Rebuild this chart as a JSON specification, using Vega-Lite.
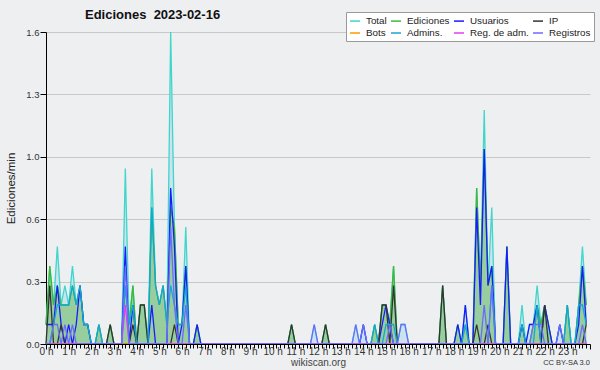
{
  "$schema": "https://vega.github.io/schema/vega-lite/v6.json",
  "width": 544,
  "height": 312,
  "autosize": {"type": "none"},
  "padding": {"left": 46, "top": 32, "right": 10, "bottom": 26},
  "background": "#eeeff1",
  "config": {"view": {"stroke": null}, "font": "Liberation Sans"},
  "title": {"text": "Ediciones\u00a0 2023-02-16", "anchor": "start", "frame": "group", "dx": 39, "dy": 19, "offset": 9, "fontSize": 13, "font": "Liberation Sans", "fontWeight": "bold", "color": "#111"},
  "datasets": {"ed": [
{"m":0,"Total":0.1,"Ediciones":0.1,"Usuarios":0.1,"IP":0,"Bots":0,"Admins":0,"RegAdm":0,"Registros":0},
{"m":10,"Total":0.4,"Ediciones":0.4,"Usuarios":0.1,"IP":0.3,"Bots":0,"Admins":0,"RegAdm":0,"Registros":0},
{"m":20,"Total":0.2,"Ediciones":0.2,"Usuarios":0.1,"IP":0,"Bots":0,"Admins":0.1,"RegAdm":0,"Registros":0.1},
{"m":30,"Total":0.5,"Ediciones":0.3,"Usuarios":0.3,"IP":0,"Bots":0,"Admins":0.2,"RegAdm":0,"Registros":0.1},
{"m":40,"Total":0.2,"Ediciones":0.2,"Usuarios":0.1,"IP":0.1,"Bots":0,"Admins":0.2,"RegAdm":0,"Registros":0},
{"m":50,"Total":0.3,"Ediciones":0.2,"Usuarios":0,"IP":0,"Bots":0,"Admins":0.2,"RegAdm":0,"Registros":0.1},
{"m":60,"Total":0.2,"Ediciones":0.2,"Usuarios":0.1,"IP":0,"Bots":0,"Admins":0.2,"RegAdm":0,"Registros":0},
{"m":70,"Total":0.4,"Ediciones":0.3,"Usuarios":0,"IP":0,"Bots":0,"Admins":0.3,"RegAdm":0,"Registros":0.1},
{"m":80,"Total":0.2,"Ediciones":0.2,"Usuarios":0.1,"IP":0,"Bots":0,"Admins":0.2,"RegAdm":0,"Registros":0},
{"m":90,"Total":0.3,"Ediciones":0.3,"Usuarios":0.3,"IP":0,"Bots":0,"Admins":0.3,"RegAdm":0,"Registros":0},
{"m":100,"Total":0.1,"Ediciones":0.1,"Usuarios":0.1,"IP":0,"Bots":0,"Admins":0.1,"RegAdm":0,"Registros":0},
{"m":110,"Total":0.1,"Ediciones":0.1,"Usuarios":0.1,"IP":0,"Bots":0,"Admins":0.1,"RegAdm":0,"Registros":0},
{"m":120,"Total":0,"Ediciones":0,"Usuarios":0,"IP":0,"Bots":0,"Admins":0,"RegAdm":0,"Registros":0},
{"m":130,"Total":0,"Ediciones":0,"Usuarios":0,"IP":0,"Bots":0,"Admins":0,"RegAdm":0,"Registros":0},
{"m":140,"Total":0.1,"Ediciones":0.1,"Usuarios":0,"IP":0,"Bots":0,"Admins":0.1,"RegAdm":0,"Registros":0},
{"m":150,"Total":0,"Ediciones":0,"Usuarios":0,"IP":0,"Bots":0,"Admins":0,"RegAdm":0,"Registros":0},
{"m":160,"Total":0,"Ediciones":0,"Usuarios":0,"IP":0,"Bots":0,"Admins":0,"RegAdm":0,"Registros":0},
{"m":170,"Total":0.1,"Ediciones":0.1,"Usuarios":0,"IP":0.1,"Bots":0,"Admins":0,"RegAdm":0,"Registros":0},
{"m":180,"Total":0,"Ediciones":0,"Usuarios":0,"IP":0,"Bots":0,"Admins":0,"RegAdm":0,"Registros":0},
{"m":190,"Total":0,"Ediciones":0,"Usuarios":0,"IP":0,"Bots":0,"Admins":0,"RegAdm":0,"Registros":0},
{"m":200,"Total":0,"Ediciones":0,"Usuarios":0,"IP":0,"Bots":0,"Admins":0,"RegAdm":0,"Registros":0},
{"m":210,"Total":0.9,"Ediciones":0.3,"Usuarios":0.5,"IP":0,"Bots":0,"Admins":0.3,"RegAdm":0.2,"Registros":0.4},
{"m":220,"Total":0.1,"Ediciones":0.1,"Usuarios":0,"IP":0,"Bots":0,"Admins":0.1,"RegAdm":0,"Registros":0},
{"m":230,"Total":0.3,"Ediciones":0.3,"Usuarios":0.2,"IP":0.1,"Bots":0,"Admins":0.2,"RegAdm":0,"Registros":0},
{"m":240,"Total":0,"Ediciones":0,"Usuarios":0,"IP":0,"Bots":0,"Admins":0,"RegAdm":0,"Registros":0},
{"m":250,"Total":0.2,"Ediciones":0.2,"Usuarios":0,"IP":0.2,"Bots":0,"Admins":0,"RegAdm":0,"Registros":0},
{"m":260,"Total":0.2,"Ediciones":0.2,"Usuarios":0,"IP":0.2,"Bots":0,"Admins":0,"RegAdm":0,"Registros":0},
{"m":270,"Total":0,"Ediciones":0,"Usuarios":0,"IP":0,"Bots":0,"Admins":0,"RegAdm":0,"Registros":0},
{"m":280,"Total":0.9,"Ediciones":0.7,"Usuarios":0.2,"IP":0,"Bots":0,"Admins":0.7,"RegAdm":0,"Registros":0},
{"m":290,"Total":0.3,"Ediciones":0.3,"Usuarios":0,"IP":0,"Bots":0,"Admins":0.3,"RegAdm":0,"Registros":0},
{"m":300,"Total":0.2,"Ediciones":0.2,"Usuarios":0,"IP":0,"Bots":0,"Admins":0.2,"RegAdm":0,"Registros":0},
{"m":310,"Total":0.3,"Ediciones":0.3,"Usuarios":0,"IP":0,"Bots":0,"Admins":0.3,"RegAdm":0,"Registros":0},
{"m":320,"Total":0.1,"Ediciones":0.1,"Usuarios":0,"IP":0,"Bots":0,"Admins":0.1,"RegAdm":0,"Registros":0},
{"m":330,"Total":1.6,"Ediciones":0.7,"Usuarios":0.8,"IP":0,"Bots":0,"Admins":0.3,"RegAdm":0,"Registros":0.6},
{"m":340,"Total":0.6,"Ediciones":0.6,"Usuarios":0.5,"IP":0.1,"Bots":0,"Admins":0.2,"RegAdm":0,"Registros":0.2},
{"m":350,"Total":0.1,"Ediciones":0.1,"Usuarios":0,"IP":0,"Bots":0,"Admins":0.1,"RegAdm":0,"Registros":0},
{"m":360,"Total":0.1,"Ediciones":0.1,"Usuarios":0.1,"IP":0,"Bots":0,"Admins":0.1,"RegAdm":0,"Registros":0},
{"m":370,"Total":0.6,"Ediciones":0.4,"Usuarios":0.4,"IP":0,"Bots":0,"Admins":0.3,"RegAdm":0,"Registros":0.2},
{"m":380,"Total":0,"Ediciones":0,"Usuarios":0,"IP":0,"Bots":0,"Admins":0,"RegAdm":0,"Registros":0},
{"m":390,"Total":0,"Ediciones":0,"Usuarios":0,"IP":0,"Bots":0,"Admins":0,"RegAdm":0,"Registros":0},
{"m":400,"Total":0.1,"Ediciones":0.1,"Usuarios":0.1,"IP":0,"Bots":0,"Admins":0,"RegAdm":0,"Registros":0},
{"m":410,"Total":0,"Ediciones":0,"Usuarios":0,"IP":0,"Bots":0,"Admins":0,"RegAdm":0,"Registros":0},
{"m":420,"Total":0,"Ediciones":0,"Usuarios":0,"IP":0,"Bots":0,"Admins":0,"RegAdm":0,"Registros":0},
{"m":430,"Total":0,"Ediciones":0,"Usuarios":0,"IP":0,"Bots":0,"Admins":0,"RegAdm":0,"Registros":0},
{"m":440,"Total":0,"Ediciones":0,"Usuarios":0,"IP":0,"Bots":0,"Admins":0,"RegAdm":0,"Registros":0},
{"m":450,"Total":0,"Ediciones":0,"Usuarios":0,"IP":0,"Bots":0,"Admins":0,"RegAdm":0,"Registros":0},
{"m":460,"Total":0,"Ediciones":0,"Usuarios":0,"IP":0,"Bots":0,"Admins":0,"RegAdm":0,"Registros":0},
{"m":470,"Total":0,"Ediciones":0,"Usuarios":0,"IP":0,"Bots":0,"Admins":0,"RegAdm":0,"Registros":0},
{"m":480,"Total":0,"Ediciones":0,"Usuarios":0,"IP":0,"Bots":0,"Admins":0,"RegAdm":0,"Registros":0},
{"m":490,"Total":0,"Ediciones":0,"Usuarios":0,"IP":0,"Bots":0,"Admins":0,"RegAdm":0,"Registros":0},
{"m":500,"Total":0,"Ediciones":0,"Usuarios":0,"IP":0,"Bots":0,"Admins":0,"RegAdm":0,"Registros":0},
{"m":510,"Total":0,"Ediciones":0,"Usuarios":0,"IP":0,"Bots":0,"Admins":0,"RegAdm":0,"Registros":0},
{"m":520,"Total":0,"Ediciones":0,"Usuarios":0,"IP":0,"Bots":0,"Admins":0,"RegAdm":0,"Registros":0},
{"m":530,"Total":0,"Ediciones":0,"Usuarios":0,"IP":0,"Bots":0,"Admins":0,"RegAdm":0,"Registros":0},
{"m":540,"Total":0,"Ediciones":0,"Usuarios":0,"IP":0,"Bots":0,"Admins":0,"RegAdm":0,"Registros":0},
{"m":550,"Total":0,"Ediciones":0,"Usuarios":0,"IP":0,"Bots":0,"Admins":0,"RegAdm":0,"Registros":0},
{"m":560,"Total":0,"Ediciones":0,"Usuarios":0,"IP":0,"Bots":0,"Admins":0,"RegAdm":0,"Registros":0},
{"m":570,"Total":0,"Ediciones":0,"Usuarios":0,"IP":0,"Bots":0,"Admins":0,"RegAdm":0,"Registros":0},
{"m":580,"Total":0,"Ediciones":0,"Usuarios":0,"IP":0,"Bots":0,"Admins":0,"RegAdm":0,"Registros":0},
{"m":590,"Total":0,"Ediciones":0,"Usuarios":0,"IP":0,"Bots":0,"Admins":0,"RegAdm":0,"Registros":0},
{"m":600,"Total":0,"Ediciones":0,"Usuarios":0,"IP":0,"Bots":0,"Admins":0,"RegAdm":0,"Registros":0},
{"m":610,"Total":0,"Ediciones":0,"Usuarios":0,"IP":0,"Bots":0,"Admins":0,"RegAdm":0,"Registros":0},
{"m":620,"Total":0,"Ediciones":0,"Usuarios":0,"IP":0,"Bots":0,"Admins":0,"RegAdm":0,"Registros":0},
{"m":630,"Total":0,"Ediciones":0,"Usuarios":0,"IP":0,"Bots":0,"Admins":0,"RegAdm":0,"Registros":0},
{"m":640,"Total":0,"Ediciones":0,"Usuarios":0,"IP":0,"Bots":0,"Admins":0,"RegAdm":0,"Registros":0},
{"m":650,"Total":0.1,"Ediciones":0.1,"Usuarios":0,"IP":0.1,"Bots":0,"Admins":0,"RegAdm":0,"Registros":0},
{"m":660,"Total":0,"Ediciones":0,"Usuarios":0,"IP":0,"Bots":0,"Admins":0,"RegAdm":0,"Registros":0},
{"m":670,"Total":0,"Ediciones":0,"Usuarios":0,"IP":0,"Bots":0,"Admins":0,"RegAdm":0,"Registros":0},
{"m":680,"Total":0,"Ediciones":0,"Usuarios":0,"IP":0,"Bots":0,"Admins":0,"RegAdm":0,"Registros":0},
{"m":690,"Total":0,"Ediciones":0,"Usuarios":0,"IP":0,"Bots":0,"Admins":0,"RegAdm":0,"Registros":0},
{"m":700,"Total":0,"Ediciones":0,"Usuarios":0,"IP":0,"Bots":0,"Admins":0,"RegAdm":0,"Registros":0},
{"m":710,"Total":0.1,"Ediciones":0,"Usuarios":0,"IP":0,"Bots":0,"Admins":0,"RegAdm":0,"Registros":0.1},
{"m":720,"Total":0,"Ediciones":0,"Usuarios":0,"IP":0,"Bots":0,"Admins":0,"RegAdm":0,"Registros":0},
{"m":730,"Total":0,"Ediciones":0,"Usuarios":0,"IP":0,"Bots":0,"Admins":0,"RegAdm":0,"Registros":0},
{"m":740,"Total":0.1,"Ediciones":0.1,"Usuarios":0,"IP":0.1,"Bots":0,"Admins":0,"RegAdm":0,"Registros":0},
{"m":750,"Total":0,"Ediciones":0,"Usuarios":0,"IP":0,"Bots":0,"Admins":0,"RegAdm":0,"Registros":0},
{"m":760,"Total":0,"Ediciones":0,"Usuarios":0,"IP":0,"Bots":0,"Admins":0,"RegAdm":0,"Registros":0},
{"m":770,"Total":0,"Ediciones":0,"Usuarios":0,"IP":0,"Bots":0,"Admins":0,"RegAdm":0,"Registros":0},
{"m":780,"Total":0,"Ediciones":0,"Usuarios":0,"IP":0,"Bots":0,"Admins":0,"RegAdm":0,"Registros":0},
{"m":790,"Total":0,"Ediciones":0,"Usuarios":0,"IP":0,"Bots":0,"Admins":0,"RegAdm":0,"Registros":0},
{"m":800,"Total":0,"Ediciones":0,"Usuarios":0,"IP":0,"Bots":0,"Admins":0,"RegAdm":0,"Registros":0},
{"m":810,"Total":0,"Ediciones":0,"Usuarios":0,"IP":0,"Bots":0,"Admins":0,"RegAdm":0,"Registros":0},
{"m":820,"Total":0.1,"Ediciones":0,"Usuarios":0,"IP":0,"Bots":0,"Admins":0,"RegAdm":0,"Registros":0.1},
{"m":830,"Total":0,"Ediciones":0,"Usuarios":0,"IP":0,"Bots":0,"Admins":0,"RegAdm":0,"Registros":0},
{"m":840,"Total":0.1,"Ediciones":0,"Usuarios":0.1,"IP":0,"Bots":0,"Admins":0,"RegAdm":0,"Registros":0.1},
{"m":850,"Total":0,"Ediciones":0,"Usuarios":0,"IP":0,"Bots":0,"Admins":0,"RegAdm":0,"Registros":0},
{"m":860,"Total":0,"Ediciones":0,"Usuarios":0,"IP":0,"Bots":0,"Admins":0,"RegAdm":0,"Registros":0},
{"m":870,"Total":0.1,"Ediciones":0.1,"Usuarios":0,"IP":0,"Bots":0,"Admins":0.1,"RegAdm":0,"Registros":0},
{"m":880,"Total":0,"Ediciones":0,"Usuarios":0,"IP":0,"Bots":0,"Admins":0,"RegAdm":0,"Registros":0},
{"m":890,"Total":0.2,"Ediciones":0.2,"Usuarios":0.1,"IP":0.2,"Bots":0,"Admins":0,"RegAdm":0,"Registros":0},
{"m":900,"Total":0.2,"Ediciones":0.2,"Usuarios":0.2,"IP":0.2,"Bots":0,"Admins":0.1,"RegAdm":0,"Registros":0},
{"m":910,"Total":0.1,"Ediciones":0.1,"Usuarios":0.1,"IP":0,"Bots":0,"Admins":0.1,"RegAdm":0,"Registros":0.1},
{"m":920,"Total":0.4,"Ediciones":0.4,"Usuarios":0,"IP":0.3,"Bots":0,"Admins":0.1,"RegAdm":0,"Registros":0},
{"m":930,"Total":0,"Ediciones":0,"Usuarios":0,"IP":0,"Bots":0,"Admins":0,"RegAdm":0,"Registros":0},
{"m":940,"Total":0.1,"Ediciones":0,"Usuarios":0,"IP":0,"Bots":0,"Admins":0,"RegAdm":0,"Registros":0.1},
{"m":950,"Total":0.1,"Ediciones":0,"Usuarios":0,"IP":0,"Bots":0,"Admins":0,"RegAdm":0,"Registros":0.1},
{"m":960,"Total":0,"Ediciones":0,"Usuarios":0,"IP":0,"Bots":0,"Admins":0,"RegAdm":0,"Registros":0},
{"m":970,"Total":0,"Ediciones":0,"Usuarios":0,"IP":0,"Bots":0,"Admins":0,"RegAdm":0,"Registros":0},
{"m":980,"Total":0,"Ediciones":0,"Usuarios":0,"IP":0,"Bots":0,"Admins":0,"RegAdm":0,"Registros":0},
{"m":990,"Total":0,"Ediciones":0,"Usuarios":0,"IP":0,"Bots":0,"Admins":0,"RegAdm":0,"Registros":0},
{"m":1000,"Total":0,"Ediciones":0,"Usuarios":0,"IP":0,"Bots":0,"Admins":0,"RegAdm":0,"Registros":0},
{"m":1010,"Total":0,"Ediciones":0,"Usuarios":0,"IP":0,"Bots":0,"Admins":0,"RegAdm":0,"Registros":0},
{"m":1020,"Total":0,"Ediciones":0,"Usuarios":0,"IP":0,"Bots":0,"Admins":0,"RegAdm":0,"Registros":0},
{"m":1030,"Total":0,"Ediciones":0,"Usuarios":0,"IP":0,"Bots":0,"Admins":0,"RegAdm":0,"Registros":0},
{"m":1040,"Total":0,"Ediciones":0,"Usuarios":0,"IP":0,"Bots":0,"Admins":0,"RegAdm":0,"Registros":0},
{"m":1050,"Total":0.3,"Ediciones":0.3,"Usuarios":0,"IP":0.3,"Bots":0,"Admins":0,"RegAdm":0,"Registros":0},
{"m":1060,"Total":0,"Ediciones":0,"Usuarios":0,"IP":0,"Bots":0,"Admins":0,"RegAdm":0,"Registros":0},
{"m":1070,"Total":0,"Ediciones":0,"Usuarios":0,"IP":0,"Bots":0,"Admins":0,"RegAdm":0,"Registros":0},
{"m":1080,"Total":0,"Ediciones":0,"Usuarios":0,"IP":0,"Bots":0,"Admins":0,"RegAdm":0,"Registros":0},
{"m":1090,"Total":0.1,"Ediciones":0.1,"Usuarios":0.1,"IP":0,"Bots":0,"Admins":0,"RegAdm":0,"Registros":0},
{"m":1100,"Total":0,"Ediciones":0,"Usuarios":0,"IP":0,"Bots":0,"Admins":0,"RegAdm":0,"Registros":0},
{"m":1110,"Total":0.2,"Ediciones":0.1,"Usuarios":0.2,"IP":0,"Bots":0,"Admins":0.1,"RegAdm":0,"Registros":0},
{"m":1120,"Total":0,"Ediciones":0,"Usuarios":0,"IP":0,"Bots":0,"Admins":0,"RegAdm":0,"Registros":0},
{"m":1130,"Total":0,"Ediciones":0,"Usuarios":0,"IP":0,"Bots":0,"Admins":0,"RegAdm":0,"Registros":0},
{"m":1140,"Total":0.8,"Ediciones":0.8,"Usuarios":0.7,"IP":0.1,"Bots":0,"Admins":0,"RegAdm":0,"Registros":0},
{"m":1150,"Total":0.3,"Ediciones":0.3,"Usuarios":0.2,"IP":0,"Bots":0,"Admins":0,"RegAdm":0,"Registros":0},
{"m":1160,"Total":1.2,"Ediciones":1.0,"Usuarios":1.0,"IP":0,"Bots":0,"Admins":0,"RegAdm":0,"Registros":0.2},
{"m":1170,"Total":0.3,"Ediciones":0.3,"Usuarios":0.3,"IP":0.1,"Bots":0,"Admins":0,"RegAdm":0,"Registros":0},
{"m":1180,"Total":0.7,"Ediciones":0.4,"Usuarios":0.4,"IP":0,"Bots":0,"Admins":0.3,"RegAdm":0,"Registros":0.3},
{"m":1190,"Total":0,"Ediciones":0,"Usuarios":0,"IP":0,"Bots":0,"Admins":0,"RegAdm":0,"Registros":0},
{"m":1200,"Total":0,"Ediciones":0,"Usuarios":0,"IP":0,"Bots":0,"Admins":0,"RegAdm":0,"Registros":0},
{"m":1210,"Total":0,"Ediciones":0,"Usuarios":0,"IP":0,"Bots":0,"Admins":0,"RegAdm":0,"Registros":0},
{"m":1220,"Total":0.5,"Ediciones":0.5,"Usuarios":0.5,"IP":0,"Bots":0,"Admins":0,"RegAdm":0,"Registros":0},
{"m":1230,"Total":0,"Ediciones":0,"Usuarios":0,"IP":0,"Bots":0,"Admins":0,"RegAdm":0,"Registros":0},
{"m":1240,"Total":0,"Ediciones":0,"Usuarios":0,"IP":0,"Bots":0,"Admins":0,"RegAdm":0,"Registros":0},
{"m":1250,"Total":0,"Ediciones":0,"Usuarios":0,"IP":0,"Bots":0,"Admins":0,"RegAdm":0,"Registros":0},
{"m":1260,"Total":0.2,"Ediciones":0.1,"Usuarios":0.1,"IP":0,"Bots":0,"Admins":0.1,"RegAdm":0,"Registros":0},
{"m":1270,"Total":0,"Ediciones":0,"Usuarios":0,"IP":0,"Bots":0,"Admins":0,"RegAdm":0,"Registros":0},
{"m":1280,"Total":0.1,"Ediciones":0,"Usuarios":0.1,"IP":0,"Bots":0,"Admins":0,"RegAdm":0,"Registros":0},
{"m":1290,"Total":0.1,"Ediciones":0.1,"Usuarios":0.1,"IP":0,"Bots":0,"Admins":0,"RegAdm":0,"Registros":0.1},
{"m":1300,"Total":0.3,"Ediciones":0.2,"Usuarios":0.2,"IP":0,"Bots":0,"Admins":0.2,"RegAdm":0,"Registros":0.1},
{"m":1310,"Total":0.1,"Ediciones":0.1,"Usuarios":0,"IP":0,"Bots":0,"Admins":0,"RegAdm":0,"Registros":0.1},
{"m":1320,"Total":0.2,"Ediciones":0.2,"Usuarios":0.2,"IP":0.2,"Bots":0,"Admins":0,"RegAdm":0,"Registros":0},
{"m":1330,"Total":0.1,"Ediciones":0.1,"Usuarios":0.1,"IP":0,"Bots":0,"Admins":0,"RegAdm":0,"Registros":0},
{"m":1340,"Total":0,"Ediciones":0,"Usuarios":0,"IP":0,"Bots":0,"Admins":0,"RegAdm":0,"Registros":0},
{"m":1350,"Total":0,"Ediciones":0,"Usuarios":0,"IP":0,"Bots":0,"Admins":0,"RegAdm":0,"Registros":0},
{"m":1360,"Total":0.1,"Ediciones":0,"Usuarios":0.1,"IP":0,"Bots":0,"Admins":0,"RegAdm":0,"Registros":0.1},
{"m":1370,"Total":0,"Ediciones":0,"Usuarios":0,"IP":0,"Bots":0,"Admins":0,"RegAdm":0,"Registros":0},
{"m":1380,"Total":0.2,"Ediciones":0.2,"Usuarios":0,"IP":0,"Bots":0,"Admins":0.2,"RegAdm":0,"Registros":0},
{"m":1390,"Total":0,"Ediciones":0,"Usuarios":0,"IP":0,"Bots":0,"Admins":0,"RegAdm":0,"Registros":0},
{"m":1400,"Total":0,"Ediciones":0,"Usuarios":0,"IP":0,"Bots":0,"Admins":0,"RegAdm":0,"Registros":0},
{"m":1410,"Total":0.2,"Ediciones":0.2,"Usuarios":0.1,"IP":0,"Bots":0,"Admins":0.2,"RegAdm":0,"Registros":0},
{"m":1420,"Total":0.5,"Ediciones":0.4,"Usuarios":0.4,"IP":0,"Bots":0,"Admins":0.2,"RegAdm":0,"Registros":0.1},
{"m":1430,"Total":0.2,"Ediciones":0.2,"Usuarios":0.1,"IP":0.1,"Bots":0,"Admins":0.1,"RegAdm":0,"Registros":0}
  ],
  "cc": [{"t": "CC BY-SA 3.0", "m": 1440, "y": 0}]},
  "data": {"name": "ed"},
  "encoding": {
    "x": {
      "field": "m", "type": "quantitative",
      "scale": {"domain": [0, 1440], "nice": false, "zero": false},
      "axis": {
        "values": [0,10,20,30,40,50,60,70,80,90,100,110,120,130,140,150,160,170,180,190,200,210,220,230,240,250,260,270,280,290,300,310,320,330,340,350,360,370,380,390,400,410,420,430,440,450,460,470,480,490,500,510,520,530,540,550,560,570,580,590,600,610,620,630,640,650,660,670,680,690,700,710,720,730,740,750,760,770,780,790,800,810,820,830,840,850,860,870,880,890,900,910,920,930,940,950,960,970,980,990,1000,1010,1020,1030,1040,1050,1060,1070,1080,1090,1100,1110,1120,1130,1140,1150,1160,1170,1180,1190,1200,1210,1220,1230,1240,1250,1260,1270,1280,1290,1300,1310,1320,1330,1340,1350,1360,1370,1380,1390,1400,1410,1420,1430,1440],
        "labelExpr": "datum.value % 60 === 0 && datum.value < 1440 ? (datum.value / 60) + ' h' : ''",
        "labelOverlap": false,
        "labelFlush": false,
        "labelFont": "Liberation Sans",
        "labelFontSize": 10,
        "labelColor": "#333",
        "labelPadding": -3,
        "tickSize": {"condition": {"test": "datum.value % 60 === 0", "value": 5}, "value": 4},
        "tickColor": "#000",
        "domainColor": "#000",
        "grid": false,
        "title": "wikiscan.org",
        "titleFont": "Liberation Sans",
        "titleFontSize": 10,
        "titleFontWeight": "normal",
        "titleColor": "#444",
        "titlePadding": 1,
        "zindex": 1
      }
    }
  },
  "layer": [
    {
      "mark": {"type": "area", "color": "#c6e0ee", "opacity": 0.9},
      "encoding": {
        "y": {
          "field": "Total", "type": "quantitative", "title": "Ediciones/min",
          "scale": {"domain": [0, 1.6], "nice": false},
          "axis": {
            "values": [0,0.08,0.16,0.24,0.32,0.4,0.48,0.56,0.64,0.72,0.8,0.88,0.96,1.04,1.12,1.2,1.28,1.36,1.44,1.52,1.6],
            "labelExpr": "abs(datum.value / 0.32 - round(datum.value / 0.32)) < 0.01 ? format(datum.value, '.1f') : ''",
            "labelFont": "Liberation Sans",
            "labelFontSize": 9.5,
            "labelColor": "#333",
            "labelPadding": 1,
            "tickSize": {"condition": {"test": "abs(datum.value / 0.32 - round(datum.value / 0.32)) < 0.01", "value": 6}, "value": 3},
            "tickColor": "#000",
            "domainColor": "#000",
            "grid": true,
            "gridColor": "#c8c8c8",
            "gridOpacity": {"condition": {"test": "abs(datum.value / 0.32 - round(datum.value / 0.32)) < 0.01 && datum.value > 0", "value": 1}, "value": 0},
            "titleFont": "Liberation Sans",
            "titleFontSize": 11.5,
            "titleFontWeight": "normal",
            "titleColor": "#222",
            "titlePadding": 9,
            "zindex": 0
          }
        }
      }
    },
    {
      "mark": {"type": "area", "color": "#8fca8f", "opacity": 0.85},
      "encoding": {
        "y": {"field": "Ediciones", "type": "quantitative", "title": "Ediciones/min"}
      }
    },
    {
      "transform": [{"fold": ["Total", "Ediciones", "Usuarios", "IP", "Bots", "Admins", "RegAdm", "Registros"], "as": ["serie", "v"]}],
      "mark": {"type": "line", "strokeWidth": 1.3},
      "encoding": {
        "y": {"field": "v", "type": "quantitative", "title": "Ediciones/min"},
        "color": {
          "field": "serie", "type": "nominal",
          "scale": {
            "domain": ["Total", "Ediciones", "Usuarios", "IP", "Bots", "Admins", "RegAdm", "Registros"],
            "range": ["#3fd6cc", "#3cb83c", "#1a1aff", "#333333", "#ff9900", "#14a6d6", "#e040f0", "#6b6bff"]
          },
          "legend": {
            "orient": "none", "legendX": 300, "legendY": -20,
            "direction": "horizontal", "columns": 4,
            "title": null,
            "fillColor": "#ffffff", "strokeColor": "#999999", "padding": 3,
            "columnPadding": 1, "rowPadding": 1,
            "symbolType": "stroke", "symbolSize": 100, "symbolStrokeWidth": 1.5,
            "labelFont": "Liberation Sans", "labelFontSize": 9.8, "labelColor": "#222", "labelOffset": 5,
            "labelExpr": "datum.label === 'Admins' ? 'Admins.' : datum.label === 'RegAdm' ? 'Reg. de adm.' : datum.label"
          }
        }
      }
    },
    {
      "data": {"name": "cc"},
      "mark": {"type": "text", "align": "right", "baseline": "middle", "dy": 19, "fontSize": 7.5, "font": "Liberation Sans", "color": "#333"},
      "encoding": {
        "y": {"field": "y", "type": "quantitative", "title": "Ediciones/min"},
        "text": {"field": "t", "type": "nominal"}
      }
    }
  ]
}
